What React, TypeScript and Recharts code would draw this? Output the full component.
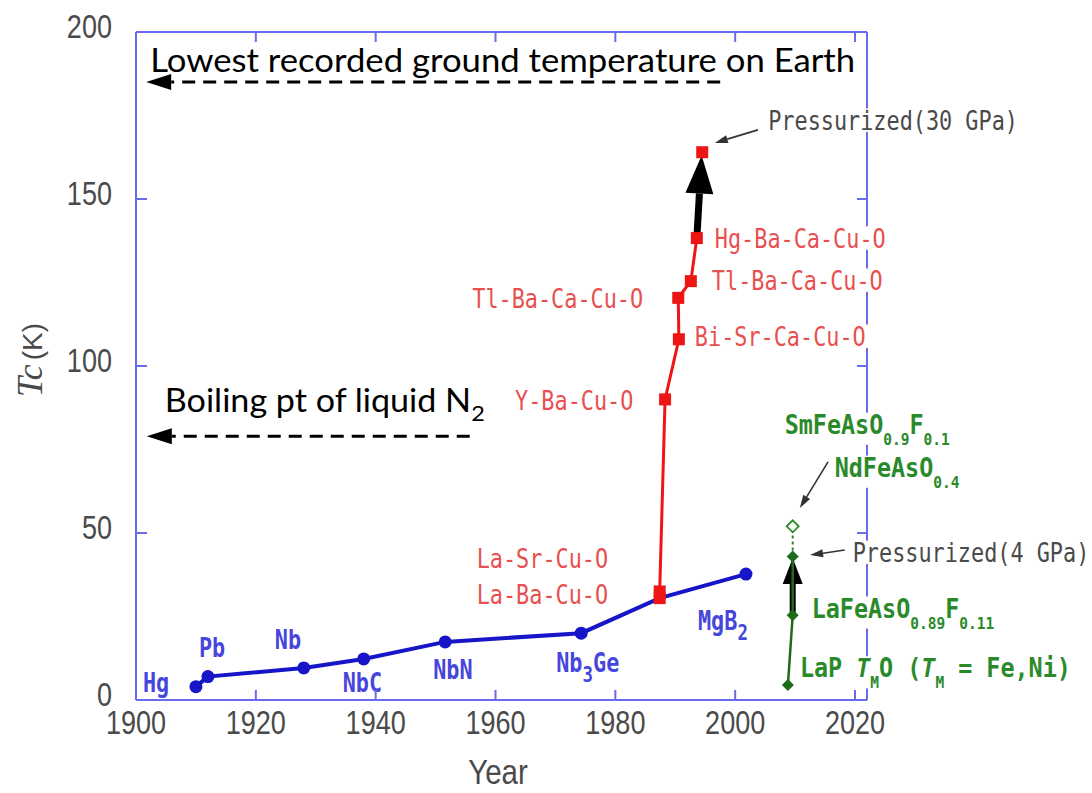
import React from "react";
import { ComposedChart, Line, XAxis, YAxis, ReferenceLine } from "recharts";

document.body.style.margin = "0";

// conventional (BCS) superconductors
const conventionalYears = [1910, 1912, 1928, 1938, 1951.6, 1974.3, 1987.4, 2001.8];
const conventionalTc = [4, 7, 9.6, 12.3, 17.4, 20, 30.5, 37.7];
const conventionalNames = ["Hg", "Pb", "Nb", "NbC", "NbN", "Nb_3_Ge", "", "MgB_2_"];

// cuprates
const cuprateYears = [1987.4, 1987.4, 1988.3, 1990.6, 1990.5, 1992.6, 1993.6];
const cuprateTc = [30.5, 32.5, 90, 108, 120.4, 125.4, 138.3];
const cuprateNames = [
  "La-Ba-Cu-O",
  "La-Sr-Cu-O",
  "Y-Ba-Cu-O",
  "Bi-Sr-Ca-Cu-O",
  "Tl-Ba-Ca-Cu-O",
  "Tl-Ba-Ca-Cu-O",
  "Hg-Ba-Ca-Cu-O",
];

const pressurizedYears = [1994.5];
const pressurizedTc = [164];
const pressurizedNames = ["Pressurized(30 GPa)"];

// iron based
const ironYears = [2008.8, 2009.6, 2009.6];
const ironTc = [4.5, 25.4, 43];
const ironNames = ["LaP *T*_M_O (*T*_M_ = Fe,Ni)", "LaFeAsO_0.89_F_0.11_", "Pressurized(4 GPa)"];

const smYears = [2009.6, 2009.6];
const smTc = [43, 52];
const smNames = ["", "SmFeAsO_0.9_F_0.1_|NdFeAsO_0.4_"];

const xTicks = [1900, 1920, 1940, 1960, 1980, 2000, 2020];
const yTicks = [0, 50, 100, 150, 200];

// reference temperatures (K)
const levelNames = ["Lowest recorded ground temperature on Earth", "Boiling pt of liquid N_2_"];
const levelTc = [185, 79];
const levelFrom = [1997.5, 1955.7];
const levelTo = [1901.7, 1901.8];

// pressure jumps
const jumpFrom = [
  { year: 1993.6, tc: 138.3 },
  { year: 2009.6, tc: 25.4 },
];
const jumpTo = [
  { year: 1994.4, tc: 163 },
  { year: 2009.6, tc: 42.5 },
];

// callout pointers
const pointerFrom = [
  { year: 2003.8, tc: 170.7 },
  { year: 2015.5, tc: 71.3 },
  { year: 2018.3, tc: 44.9 },
];
const pointerTo = [
  { year: 1996.6, tc: 166.8 },
  { year: 2010.8, tc: 57.5 },
  { year: 2012.5, tc: 43.4 },
];

const zip = (xs: number[], ys: number[], names: string[]) =>
  xs.map((year, i) => ({ year, tc: ys[i], name: names[i] }));

const conventionalData = zip(conventionalYears, conventionalTc, conventionalNames);
const cuprateData = zip(cuprateYears, cuprateTc, cuprateNames);
const pressurizedData = zip(pressurizedYears, pressurizedTc, pressurizedNames);
const ironData = zip(ironYears, ironTc, ironNames);
const smData = zip(smYears, smTc, smNames);

// label offsets (px from point to left edge / vertical centre of label)
const conventionalLabelPos = [[-53, -4], [-9, -29], [-29, -28], [-21, 24], [-12, 28], [-25, 29], [0, 0], [-48, 46]];
const cuprateLabelPos = [[-183, -4], [-183, -33], [-150, 1], [16, -3], [-206, 1], [21, -1], [18, 0]];
const pressurizedLabelPos = [[66, -32]];
const ironLabelPos = [[12, -17], [19, -7], [60, -4]];
const smLabelPos = [[0, 0], [-8, -102, 42, -59]];

const PLOT_LEFT = 136;
const PLOT_TOP = 32;
const PLOT_RIGHT = 867;
const PLOT_BOTTOM = 700;

const FRAME = "#6a6aee";
const BLUE = "#1616c8";
const BLUE_TEXT = "#4646dc";
const RED = "#ee1515";
const RED_TEXT = "#e85050";
const GREEN = "#1c6c1c";
const GREEN_TEXT = "#2a8a2a";
const GRAY = "#4a4a4a";
const MONO = "'DejaVu Sans Mono', monospace";

type Part = { t: string; sub: boolean; it: boolean };
const parse = (s: string): Part[] => {
  const out: Part[] = [];
  s.split(/(_[^_]*_|\*[^*]*\*)/).forEach((tok) => {
    if (!tok) return;
    if (tok.startsWith("_")) out.push({ t: tok.slice(1, -1), sub: true, it: false });
    else if (tok.startsWith("*")) out.push({ t: tok.slice(1, -1), sub: false, it: true });
    else out.push({ t: tok, sub: false, it: false });
  });
  return out;
};

const Chem = ({
  x,
  y,
  text,
  color,
  bold = false,
  small = false,
  bg = false,
  size = 26,
  sx = 0.84,
}: {
  x: number;
  y: number;
  text: string;
  color: string;
  bold?: boolean;
  small?: boolean;
  bg?: boolean;
  size?: number;
  sx?: number;
}) => {
  const parts = parse(text);
  const subSize = small ? size * 0.62 : size * 0.8;
  const shift = small ? size * 0.42 : size * 0.4;
  let w = 0;
  parts.forEach((p) => (w += p.t.length * (p.sub ? subSize : size) * 0.602 * sx));
  let down = false;
  return (
    <g transform={`translate(${x},${y})`}>
      {bg && (
        <rect
          x={-3}
          y={-size * 0.45}
          width={w + 6}
          height={size * 0.9 + (parts.some((p) => p.sub) ? shift * 0.8 : 0)}
          fill="#fff"
        />
      )}
      <text
        transform={`scale(${sx},1)`}
        x={0}
        y={size * 0.365}
        fontFamily={MONO}
        fontSize={size}
        fontWeight={bold ? 700 : 400}
        fill={color}
      >
        {parts.map((p, i) => {
          let dy = 0;
          if (p.sub && !down) {
            dy = shift;
            down = true;
          } else if (!p.sub && down) {
            dy = -shift;
            down = false;
          }
          return (
            <tspan
              key={i}
              dy={dy}
              fontSize={p.sub ? subSize : size}
              fontStyle={p.it ? "italic" : "normal"}
              xmlSpace="preserve"
            >
              {p.t}
            </tspan>
          );
        })}
      </text>
    </g>
  );
};

const makeDot =
  (
    marker: "circle" | "square" | "diamond" | "open" | "none",
    pos: number[][],
    colors: string[],
    opts: { bold?: boolean; bg?: boolean[]; skip?: number[]; openAt?: number[] } = {}
  ) =>
  (props: any) => {
    const { cx, cy, index, payload } = props;
    if (cx == null || cy == null) return <g key={`d-${index}`} />;
    let m: React.ReactNode = null;
    const kind = opts.openAt && opts.openAt.includes(index) ? "open" : marker;
    if (!(opts.skip && opts.skip.includes(index))) {
      if (kind === "circle") m = <circle cx={cx} cy={cy} r={6.5} fill={BLUE} />;
      if (kind === "square") m = <rect x={cx - 6} y={cy - 6} width={12} height={12} fill={RED} />;
      if (kind === "diamond")
        m = <polygon points={`${cx},${cy - 6} ${cx + 6},${cy} ${cx},${cy + 6} ${cx - 6},${cy}`} fill={GREEN} />;
      if (kind === "open")
        m = (
          <polygon
            points={`${cx},${cy - 6} ${cx + 6},${cy} ${cx},${cy + 6} ${cx - 6},${cy}`}
            fill="#fff"
            stroke={GREEN_TEXT}
            strokeWidth={1.8}
          />
        );
    }
    const names: string[] = payload.name ? payload.name.split("|") : [];
    const p = pos[index] || [];
    const color = colors[index] || colors[0];
    const isGreen = color === GREEN_TEXT;
    return (
      <g key={`d-${index}`}>
        {m}
        {names.map((n, k) => (
          <Chem
            key={k}
            x={cx + p[k * 2]}
            y={cy + p[k * 2 + 1]}
            text={n}
            color={color}
            bold={opts.bold && (isGreen || color === BLUE_TEXT)}
            small={isGreen}
            sx={isGreen ? 0.9 : 0.84}
            bg={opts.bg ? opts.bg[index] : false}
          />
        ))}
      </g>
    );
  };

const head = (x1: number, y1: number, x2: number, y2: number, len: number, half: number) => {
  const L = Math.hypot(x2 - x1, y2 - y1) || 1;
  const ux = (x2 - x1) / L;
  const uy = (y2 - y1) / L;
  const bx = x2 - ux * len;
  const by = y2 - uy * len;
  return {
    bx,
    by,
    pts: `${x2},${y2} ${bx - uy * half},${by + ux * half} ${bx + uy * half},${by - ux * half}`,
  };
};

const ThickArrow = (props: any) => {
  const { x1, y1, x2, y2 } = props;
  const h = head(x1, y1, x2, y2, props.len, props.half);
  return (
    <g>
      <line x1={x1} y1={y1} x2={h.bx} y2={h.by} stroke="#000" strokeWidth={props.w} />
      <polygon points={h.pts} fill="#000" />
    </g>
  );
};

const ThinArrow = (props: any) => {
  const { x1, y1, x2, y2 } = props;
  const h = head(x1, y1, x2, y2, 13, 4);
  return (
    <g>
      <line x1={x1} y1={y1} x2={h.bx} y2={h.by} stroke="#333" strokeWidth={1.6} />
      <polygon points={h.pts} fill="#333" />
    </g>
  );
};

const levelTextOffset = [
  { dx: 4, dy: -10, len: 705 },
  { dx: 18, dy: -24, len: 320 },
];

const LevelArrow = (props: any) => {
  const { x1, y1, x2, y2, idx } = props;
  const h = head(x1, y1, x2, y2, 25, 8);
  const o = levelTextOffset[idx];
  const parts = parse(levelNames[idx]);
  return (
    <g>
      <line x1={x1} y1={y1} x2={h.bx} y2={h.by} stroke="#000" strokeWidth={3} strokeDasharray="13 8" />
      <polygon points={h.pts} fill="#000" />
      <text
        x={x2 + o.dx}
        y={y2 + o.dy}
        fontFamily="Lato, 'Open Sans', sans-serif"
        fontSize={32}
        fill="#000"
        textLength={o.len}
        lengthAdjust="spacingAndGlyphs"
      >
        {parts.map((p, i) => (
          <tspan
            key={i}
            dy={p.sub ? 9 : i > 0 && parts[i - 1].sub ? -9 : 0}
            fontSize={p.sub ? 22 : 32}
            xmlSpace="preserve"
          >
            {p.t}
          </tspan>
        ))}
      </text>
    </g>
  );
};

const tickFont = "'Liberation Sans', Arial, sans-serif";

const XTick = (props: any) => {
  const { x, payload } = props;
  return (
    <g>
      <line x1={x} x2={x} y1={PLOT_BOTTOM} y2={PLOT_BOTTOM - 10} stroke={FRAME} strokeWidth={2} />
      <line x1={x} x2={x} y1={PLOT_TOP} y2={PLOT_TOP + 10} stroke={FRAME} strokeWidth={2} />
      <text
        transform={`translate(${x},${PLOT_BOTTOM + 34}) scale(0.82,1)`}
        textAnchor="middle"
        fontFamily={tickFont}
        fontSize={33}
        fill={GRAY}
      >
        {payload.value}
      </text>
    </g>
  );
};

const YTick = (props: any) => {
  const { y, payload } = props;
  return (
    <g>
      <line x1={PLOT_LEFT} x2={PLOT_LEFT + 11} y1={y} y2={y} stroke={FRAME} strokeWidth={2} />
      <line x1={PLOT_RIGHT} x2={PLOT_RIGHT - 10} y1={y} y2={y} stroke={FRAME} strokeWidth={2} />
      <text
        transform={`translate(${PLOT_LEFT - 24},${y + 6}) scale(0.82,1)`}
        textAnchor="end"
        fontFamily={tickFont}
        fontSize={33}
        fill={GRAY}
      >
        {payload.value}
      </text>
    </g>
  );
};

const App = () => {
  return (
    <div style={{ width: 1092, height: 793, background: "#fff" }}>
      <ComposedChart
        width={1092}
        height={793}
        margin={{ top: PLOT_TOP, right: 1092 - PLOT_RIGHT, bottom: 33, left: PLOT_LEFT - 100 }}
      >
        <XAxis
          type="number"
          dataKey="year"
          domain={[1900, 2022]}
          ticks={xTicks}
          height={60}
          tickSize={0}
          tickMargin={0}
          tickLine={false}
          tick={<XTick />}
          axisLine={{ stroke: FRAME, strokeWidth: 2 }}
          label={{
            content: () => (
              <text
                transform="translate(498,784) scale(0.82,1)"
                textAnchor="middle"
                fontFamily={tickFont}
                fontSize={36}
                fill={GRAY}
              >
                Year
              </text>
            ),
          }}
        />
        <YAxis
          type="number"
          domain={[0, 200]}
          ticks={yTicks}
          width={100}
          tickSize={0}
          tickMargin={0}
          tickLine={false}
          tick={<YTick />}
          axisLine={{ stroke: FRAME, strokeWidth: 2 }}
          label={{
            content: () => (
              <text transform="translate(42,360) rotate(-90)" textAnchor="middle" fill={GRAY}>
                <tspan fontFamily="'Liberation Serif', serif" fontStyle="italic" fontSize={36}>
                  Tc
                </tspan>
                <tspan fontFamily={tickFont} fontSize={28} dx={4}>
                  (K)
                </tspan>
              </text>
            ),
          }}
        />

        {/* top and right frame */}
        <ReferenceLine y={200} stroke={FRAME} strokeWidth={2} ifOverflow="extendDomain" />
        <ReferenceLine x={2022} stroke={FRAME} strokeWidth={2} ifOverflow="extendDomain" />

        {levelTc.map((tc, i) => (
          <ReferenceLine
            key={`lvl-${i}`}
            segment={[
              { x: levelFrom[i], y: tc },
              { x: levelTo[i], y: tc },
            ]}
            shape={(p: any) => <LevelArrow {...p} idx={i} />}
          />
        ))}

        <Line
          data={conventionalData}
          dataKey="tc"
          type="linear"
          stroke={BLUE}
          strokeWidth={4}
          isAnimationActive={false}
          activeDot={false}
          dot={makeDot("circle", conventionalLabelPos, [BLUE_TEXT], { skip: [6], bold: true })}
        />
        <Line
          data={cuprateData}
          dataKey="tc"
          type="linear"
          stroke={RED}
          strokeWidth={3}
          isAnimationActive={false}
          activeDot={false}
          dot={makeDot("square", cuprateLabelPos, [RED_TEXT], { bg: [false, false, false, true, false, true, true] })}
        />
        <Line
          data={smData}
          dataKey="tc"
          type="linear"
          stroke={GREEN_TEXT}
          strokeWidth={2}
          strokeDasharray="3 3"
          isAnimationActive={false}
          activeDot={false}
          dot={makeDot("none", smLabelPos, [GREEN_TEXT], { bold: true, openAt: [1], bg: [false, true] })}
        />
        {jumpFrom.map((f, i) => (
          <ReferenceLine
            key={`jump-${i}`}
            segment={[
              { x: f.year, y: f.tc },
              { x: jumpTo[i].year, y: jumpTo[i].tc },
            ]}
            shape={(p: any) =>
              i === 0 ? <ThickArrow {...p} len={38} half={14} w={7} /> : <ThickArrow {...p} len={26} half={10} w={6} />
            }
          />
        ))}
        <Line
          data={ironData}
          dataKey="tc"
          type="linear"
          stroke={GREEN}
          strokeWidth={2.5}
          isAnimationActive={false}
          activeDot={false}
          dot={makeDot("diamond", ironLabelPos, [GREEN_TEXT, GREEN_TEXT, GRAY], { bold: true, bg: [true, true, true] })}
        />
        <Line
          data={pressurizedData}
          dataKey="tc"
          type="linear"
          stroke="none"
          isAnimationActive={false}
          activeDot={false}
          dot={makeDot("square", pressurizedLabelPos, [GRAY], { bg: [true] })}
        />
        {pointerFrom.map((f, i) => (
          <ReferenceLine
            key={`ptr-${i}`}
            segment={[
              { x: f.year, y: f.tc },
              { x: pointerTo[i].year, y: pointerTo[i].tc },
            ]}
            shape={(p: any) => <ThinArrow {...p} />}
          />
        ))}
      </ComposedChart>
    </div>
  );
};

export default App;
